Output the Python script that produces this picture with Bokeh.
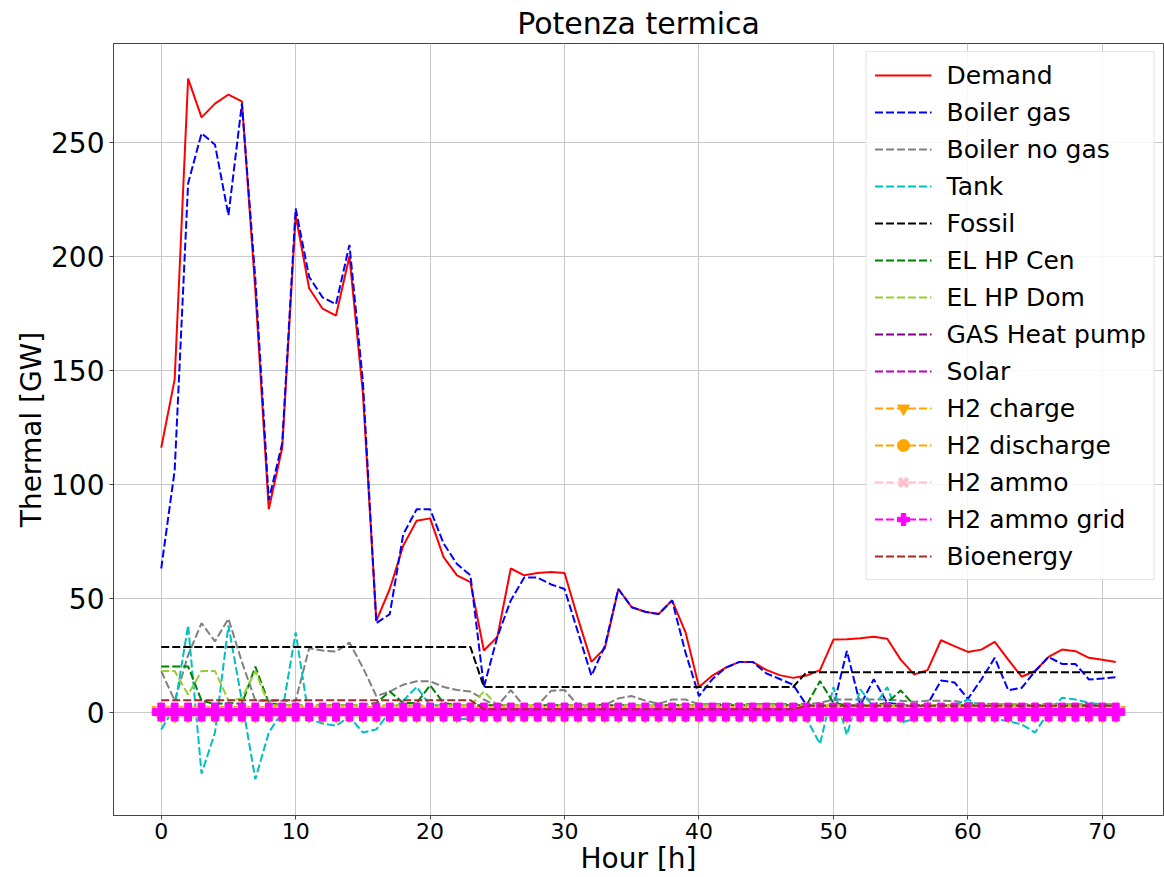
from bokeh.plotting import figure
from bokeh.models import Range1d, FixedTicker, Legend, LegendItem
from bokeh.embed import file_html
from bokeh.resources import INLINE

hours = list(range(72))

demand = [116, 146, 278, 261, 267, 271, 268, 185, 89, 116, 218, 186, 177, 174, 200, 140,
          40, 54, 73, 84, 85, 68, 60, 57, 27, 33, 63, 60, 61, 61.5, 61, 41,
          22, 28, 54, 46, 44, 43, 49, 35, 11, 16, 19.5, 22, 22, 18.5, 16.2, 15,
          16, 18.4, 31.8, 31.9, 32.4, 33, 32.2, 23, 16.5, 18.4, 31.5, 28.9, 26.4, 27.4,
          30.8, 23, 15.5, 18, 24.2, 27.4, 26.7, 23.8, 23, 22]

boiler_gas = [63, 106, 232, 254, 249, 218, 267, 190, 93, 118, 221, 191, 182, 179, 205, 145,
              39, 43, 78, 89, 89, 74, 65, 60, 11, 33, 49, 59, 59, 56, 54, 35,
              16, 29, 54, 46, 44, 43, 49, 26, 7, 14.5, 19.5, 22, 22, 17, 14.5, 12,
              3, 3, 2.5, 26.8, 3, 14.4, 4, 3.4, 2.6, 3.4, 13.8, 13, 5.8, 14.3,
              23.8, 9.6, 10.6, 17.9, 24.2, 21.1, 21.1, 14.3, 14.7, 15.3]

boiler_no_gas = [18, 5, 25, 39, 31, 41, 22, 5, 5, 5, 5, 28, 27, 26.5, 30.5, 19.5,
                 7, 9, 12, 13.5, 13.5, 11, 9.7, 9, 5.5, 2.6, 9.6, 2.6, 3, 9.3, 9.7, 3,
                 3, 3, 6, 7, 5, 3.6, 5.5, 5.5, 3.4, 3.5, 3.5, 3.5, 3.5, 3.5, 3.5, 3.5,
                 3.5, 4, 5.5, 5.5, 5.5, 5.5, 5.5, 5, 4.5, 5, 5, 4.8, 4, 3.8,
                 3.4, 3.4, 3.4, 3.4, 3.4, 3.4, 3.4, 3.4, 3.4, 3.4]

tank = [-7.6, 2, 38, -27, -9, 38, 5, -29.5, -9, 0, 35, -3, -5, -6, -2, -9,
        -7.6, 0, 5, 11, 3, 3, -3, -3, 0, 0, 3, 0, 0, 0, 0, 0,
        0, 0, 0, 0, 0, 0, 2, 0, 0, 0, 0, 0, 0, 0, 0, 0,
        -3, -14, 11, -10, 10, 2, 11, -4.7, -3, 0, 2.6, 3, 5.5, 2.6,
        -3, -4, -5.4, -9, 0, 6.3, 5.5, 4, 3.4, 3.4]

fossil = [28.5] * 24 + [11] * 24 + [17.5] * 24

el_hp_cen = [20, 20, 20, 5, 3.5, 4, 3.5, 20, 4, 3, 3, 3, 3, 3, 3, 3,
             4, 9, 4, 4, 11.7, 4, 3, 3, 3, 3, 3, 3, 3, 3, 3, 3,
             3, 3, 3, 3, 3, 3, 3, 3, 3, 3, 3, 3, 3, 3, 3, 3,
             3, 13.6, 4, 3, 3, 3, 4, 9.5, 3, 3, 3, 3, 3, 3,
             3, 3, 3, 3, 3, 3, 3, 3, 3, 3]

el_hp_dom = [18, 18, 7.7, 18, 18, 5, 6, 18, 3] + [3] * 15 + [9] + [3] * 47

gas_heat_pump = [0] * 72
solar = [0] * 72
h2_charge = [0] * 72
h2_discharge = [0] * 72
h2_ammo = [0] * 72
h2_ammo_grid = [0] * 72
bioenergy = [5.2] * 24 + [1.2] * 24 + [2.8] * 24

p = figure(width=1164, height=877, output_backend="svg", toolbar_location=None,
           x_range=Range1d(-3.55, 74.55), y_range=Range1d(-45.4, 293.4),
           min_border_left=113, min_border_right=1, min_border_top=43, min_border_bottom=62,
           title="Potenza termica")
p.background_fill_color = "white"
p.border_fill_color = "white"
p.outline_line_color = "#444444"
p.outline_line_width = 1
p.title.align = "center"
p.title.text_font = "DejaVu Sans"
p.title.text_font_size = "30px"
p.title.text_font_style = "normal"
p.title.text_color = "black"
p.title.standoff = 5

for ax in (p.xaxis[0], p.yaxis[0]):
    ax.axis_line_color = "#444444"
    ax.major_tick_line_color = "#444444"
    ax.major_tick_out = 4
    ax.major_tick_in = 0
    ax.minor_tick_line_color = None
    ax.major_label_text_font = "DejaVu Sans"
    ax.axis_label_text_font = "DejaVu Sans"
    ax.axis_label_text_font_style = "normal"
    ax.axis_label_text_color = "black"
    ax.major_label_text_color = "black"

p.xaxis.ticker = FixedTicker(ticks=[0, 10, 20, 30, 40, 50, 60, 70])
p.yaxis.ticker = FixedTicker(ticks=[0, 50, 100, 150, 200, 250])
p.xaxis.major_label_text_font_size = "22px"
p.yaxis.major_label_text_font_size = "28px"
p.xaxis.axis_label = "Hour [h]"
p.yaxis.axis_label = "Thermal [GW]"
p.xaxis.axis_label_text_font_size = "28px"
p.yaxis.axis_label_text_font_size = "28px"
p.xaxis.major_label_standoff = 3
p.xaxis.axis_label_standoff = 0
p.yaxis.major_label_standoff = 5
p.yaxis.axis_label_standoff = 0
p.grid.grid_line_color = "#c8c8c8"
p.grid.grid_line_width = 1

DASH = "8 3"
items = []

def add_line(label, data, color, dash=None, marker=None, msize=None, mlw=1):
    kw = dict(line_color=color, line_width=2)
    if dash:
        kw["line_dash"] = dash
    r = p.line(hours, data, **kw)
    rs = [r]
    if marker:
        if marker == "x":
            s = p.scatter(hours, data, marker="x", size=msize, line_color=color,
                          line_width=mlw)
        else:
            s = p.scatter(hours, data, marker=marker, size=msize, fill_color=color,
                          line_color=color, line_width=mlw)
        rs.append(s)
    items.append(LegendItem(label=label, renderers=rs))

add_line("Demand", demand, "red")
add_line("Boiler gas", boiler_gas, "blue", DASH)
add_line("Boiler no gas", boiler_no_gas, "gray", DASH)
add_line("Tank", tank, "#00bfbf", DASH)
add_line("Fossil", fossil, "black", DASH)
add_line("EL HP Cen", el_hp_cen, "green", DASH)
add_line("EL HP Dom", el_hp_dom, "yellowgreen", DASH)
add_line("GAS Heat pump", gas_heat_pump, "purple", DASH)
add_line("Solar", solar, "#bf00bf", DASH)
add_line("H2 charge", h2_charge, "orange", DASH, "inverted_triangle", 19)
add_line("H2 discharge", h2_discharge, "orange", DASH, "circle", 15)
add_line("H2 ammo", h2_ammo, "pink", DASH, "x", 15, 4)
add_line("H2 ammo grid", h2_ammo_grid, "magenta", DASH, "plus", 18)
add_line("Bioenergy", bioenergy, "brown", DASH)

legend = Legend(items=items, location="top_right", margin=8, padding=8,
                spacing=7, glyph_width=57, glyph_height=30, label_height=30,
                label_standoff=15, label_text_font="DejaVu Sans",
                label_text_font_size="25px", label_text_color="black",
                border_line_color="#cccccc",
                border_line_width=1, background_fill_alpha=0.85)
p.add_layout(legend)

open("out.html", "w").write(file_html(p, INLINE))
